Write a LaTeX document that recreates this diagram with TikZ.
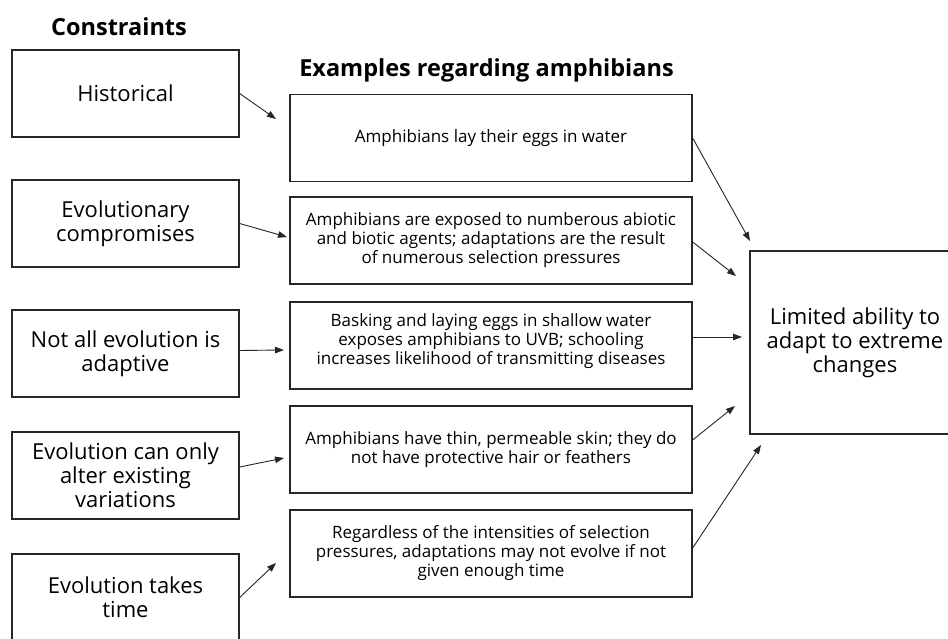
\documentclass[tikz,border=0pt]{standalone}
\usepackage{fontspec}
\setmainfont{Open Sans}
\usetikzlibrary{arrows.meta,calc}
\tikzset{
  lbox/.style={draw=black!85, line width=1.3pt, minimum width=227pt, minimum height=87pt, align=center, inner sep=2pt, font=\fontsize{22}{24}\selectfont},
  mbox/.style={draw=black!85, line width=1.3pt, minimum width=402pt, minimum height=87pt, align=center, inner sep=2pt, font=\fontsize{17}{19}\selectfont},
  mtext/.style={align=center, inner sep=2pt, font=\fontsize{17}{19}\selectfont},
  ttl/.style={font=\bfseries\fontsize{23.5}{26}\selectfont, inner sep=0pt},
  arr/.style={draw=black!85, line width=0.9pt, -{Triangle[length=9pt,width=6.5pt]}}
}
\begin{document}
\begin{tikzpicture}[x=1pt,y=-1pt]
\useasboundingbox (0,0) rectangle (948,639);
\clip (0,0) rectangle (948,639);
\fill[white] (0,0) rectangle (948,639);
% titles
\node[ttl] (tc) at (119,27) {Constraints};
\node[ttl] (te) at (486.5,70) {Examples regarding amphibians};
% left boxes
\node[lbox] (l1) at (125.5,93.5) {Historical};
\node[lbox] (l2) at (125.5,223.5) {Evolutionary\\compromises};
\node[lbox] (l3) at (125.5,353.5) {Not all evolution is\\adaptive};
\node[lbox] (l4) at (125.5,475.5) {Evolution can only\\alter existing\\variations};
\node[lbox] (l5) at (125.5,597.5) {Evolution takes\\time};
% middle boxes
\node[mbox] (m1) at (491,138) {Amphibians lay their eggs in water};
\node[mbox] (m2) at (491,240.5) {Amphibians are exposed to numberous abiotic\\and biotic agents; adaptations are the result\\of numerous selection pressures};
\node[mbox] (m3) at (491,345.5) {};
\node[mtext] (m3t) at (491,341) {Basking and laying eggs in shallow water\\exposes amphibians to UVB; schooling\\increases likelihood of transmitting diseases};
\node[mbox] (m4) at (491,449.5) {Amphibians have thin, permeable skin; they do\\not have protective hair or feathers};
\node[mbox] (m5) at (491,553.5) {Regardless of the intensities of selection\\pressures, adaptations may not evolve if not\\given enough time};
% right box
\node[lbox, minimum width=210pt, minimum height=183pt] (r) at (855,342.5) {Limited ability to\\adapt to extreme\\changes};
% arrow end points
\coordinate (e1) at (276,119);
\coordinate (e2) at (287,237);
\coordinate (e3) at (284,350);
\coordinate (e4) at (284,458);
\coordinate (e5) at (276,563);
\coordinate (f1) at (750,241);
\coordinate (f2) at (736,276);
\coordinate (f3) at (742,337);
\coordinate (f4) at (735,406);
\coordinate (f5) at (761,445);
% arrows left -> middle
\draw[arr] (l1.east) -- (e1);
\draw[arr] (l2.east) -- (e2);
\draw[arr] ([yshift=3pt]l3.east) -- (e3);
\draw[arr] ([yshift=8.5pt]l4.east) -- (e4);
\draw[arr] (l5.east) -- (e5);
% arrows middle -> right
\draw[arr] ([yshift=0pt]m1.east) -- (f1);
\draw[arr] ([yshift=-1.5pt]m2.east) -- (f2);
\draw[arr] ([yshift=8.5pt]m3.east) -- (f3);
\draw[arr] ([yshift=9.5pt]m4.east) -- (f4);
\draw[arr] ([yshift=5.5pt]m5.east) -- (f5);
\end{tikzpicture}
\end{document}
